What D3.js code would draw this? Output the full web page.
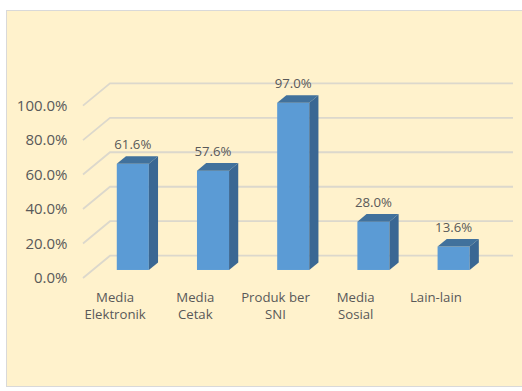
<!DOCTYPE html>
<html lang="id">
<head>
<meta charset="utf-8">
<title>Grafik batang 3D</title>
<style>
  body { margin: 0; background: #fff; }
  text { font-family: "Open Sans", Lato, sans-serif; fill: #595959; }
</style>
<script src="https://d3js.org/d3.v7.min.js"></script>
</head>
<body>
<svg id="chart" width="522" height="391"></svg>
<script>

// data
var categories = [["Media", "Elektronik"], ["Media", "Cetak"], ["Produk ber", "SNI"], ["Media", "Sosial"], ["Lain-lain"]];
var values = [0.616, 0.576, 0.970, 0.280, 0.136];
var ticks = [0, 0.2, 0.4, 0.6, 0.8, 1.0];

var svg = d3.select("#chart");

// fond
svg.append("rect")
  .attr("x", 6.5).attr("y", 10.5)
  .attr("width", 530).attr("height", 376)
  .attr("fill", "#fff2cc")
  .attr("stroke", "#d9d9d9");

// profondeur du plancher (3D)
var depth = { dx: 27, dy: -22.3 },
    barT0 = 0.36, barT1 = 0.70;

var x = d3.scaleBand()
    .domain(d3.range(values.length))
    .range([83, 484])
    .paddingInner(0.6)
    .paddingOuter(0.3);

var y = d3.scaleLinear()
    .domain([0, 1])
    .range([278, 105.6]);

// grille
svg.append("g").selectAll("polyline")
  .data(ticks)
  .enter().append("polyline")
    .attr("fill", "none")
    .attr("stroke", "#dcd8cc")
    .attr("stroke-width", 1.8)
    .attr("points", function(d) {
      var yy = y(d);
      return [[83, yy], [83 + depth.dx, yy + depth.dy], [513, yy + depth.dy]].join(" ");
    });

// axe des valeurs
svg.append("g").selectAll("text")
  .data(ticks)
  .enter().append("text")
    .attr("x", 67.5)
    .attr("y", function(d) { return y(d); })
    .attr("dy", "0.35em")
    .attr("text-anchor", "end")
    .attr("font-size", 15)
    .text(function(d) { return d3.format(".1%")(d); });

// barres
var ox0 = barT0 * depth.dx, oy0 = barT0 * depth.dy,
    bdx = (barT1 - barT0) * depth.dx, bdy = (barT1 - barT0) * depth.dy;

var bars = svg.append("g").selectAll("g")
  .data(values)
  .enter().append("g");

bars.each(function(v, i) {
  var g = d3.select(this),
      x0 = x(i) + ox0, x1 = x0 + x.bandwidth(),
      yb = y(0) + oy0, yt = y(v) + oy0;

  // face avant
  g.append("rect")
    .attr("x", x0).attr("y", yt)
    .attr("width", x.bandwidth()).attr("height", yb - yt)
    .attr("fill", "#5b9bd5");
  // côté
  g.append("polygon")
    .attr("points", [[x1, yt], [x1 + bdx, yt + bdy], [x1 + bdx, yb + bdy], [x1, yb]].join(" "))
    .attr("fill", "#3a6793");
  // dessus
  g.append("polygon")
    .attr("points", [[x0, yt], [x0 + bdx, yt + bdy], [x1 + bdx, yt + bdy], [x1, yt]].join(" "))
    .attr("fill", "#41719c");
  // étiquette
  g.append("text")
    .attr("x", x0 + x.bandwidth() / 2)
    .attr("y", yt - 15)
    .attr("text-anchor", "middle")
    .attr("font-size", 13.2)
    .text(d3.format(".1%")(v));
});

// catégories
svg.append("g").selectAll("text")
  .data(categories)
  .enter().append("text")
    .attr("x", function(d, i) { return x(i) + x.bandwidth() / 2 - 8; })
    .attr("y", 301.5)
    .attr("text-anchor", "middle")
    .attr("font-size", 13.2)
    .each(function(d) {
      var t = d3.select(this);
      d.forEach(function(line, k) {
        t.append("tspan")
          .attr("x", t.attr("x"))
          .attr("dy", k ? 17 : 0)
          .text(line);
      });
    });

</script>
</body>
</html>
